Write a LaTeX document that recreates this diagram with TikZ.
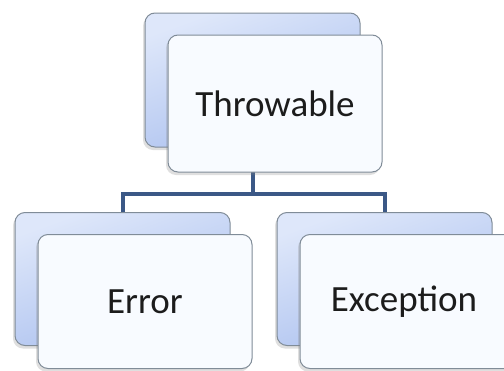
\documentclass[tikz,border=0pt]{standalone}
\usepackage{fontspec}
\setmainfont{Carlito}
\usetikzlibrary{shadows}
\definecolor{backtop}{RGB}{222,231,250}
\definecolor{backbot}{RGB}{168,190,238}
\definecolor{boxline}{RGB}{128,140,152}
\definecolor{frontfill}{RGB}{248,251,255}
\definecolor{conn}{RGB}{59,88,134}
\definecolor{txt}{RGB}{28,28,28}
\tikzset{
  backbox/.style={draw=boxline, line width=1pt, rounded corners=10pt,
    top color=backtop, bottom color=backbot, shading angle=20,
    minimum width=215pt, minimum height=133pt, inner sep=0pt,
    drop shadow={shadow xshift=-2pt, shadow yshift=-3pt, opacity=0.25}},
  frontbox/.style={draw=boxline, line width=1pt, rounded corners=10pt,
    fill=frontfill, minimum width=214pt, minimum height=134pt, inner sep=0pt,
    text=txt, font=\fontsize{37}{44}\selectfont,
    drop shadow={shadow xshift=-2pt, shadow yshift=-3pt, opacity=0.25}},
  connector/.style={draw=conn, line width=4pt}
}
\begin{document}
\begin{tikzpicture}[x=1pt, y=-1pt]
\useasboundingbox (0,0) rectangle (504,370);
\clip (0,0) rectangle (504,370);
\fill[white] (0,0) rectangle (504,370);
% back boxes
\node[backbox, minimum height=134pt] (tb) at (252.5,80) {};
\node[backbox] (lb) at (122.5,279) {};
\node[backbox] (rb) at (384.5,279) {};
% connectors
\coordinate (j) at (252.5,194);
\draw[connector] (tb.south) -- (j);
\draw[connector] (lb.north) |- (j) -| (rb.north);
% front boxes
\node[frontbox, minimum height=137pt] (tf) at (275,103.5) {Throwable};
\node[frontbox] (lf) at (145,301.5) {Error};
\node[frontbox] (rf) at (407,301.5) {\hspace*{-6pt}Exception};
\end{tikzpicture}
\end{document}
